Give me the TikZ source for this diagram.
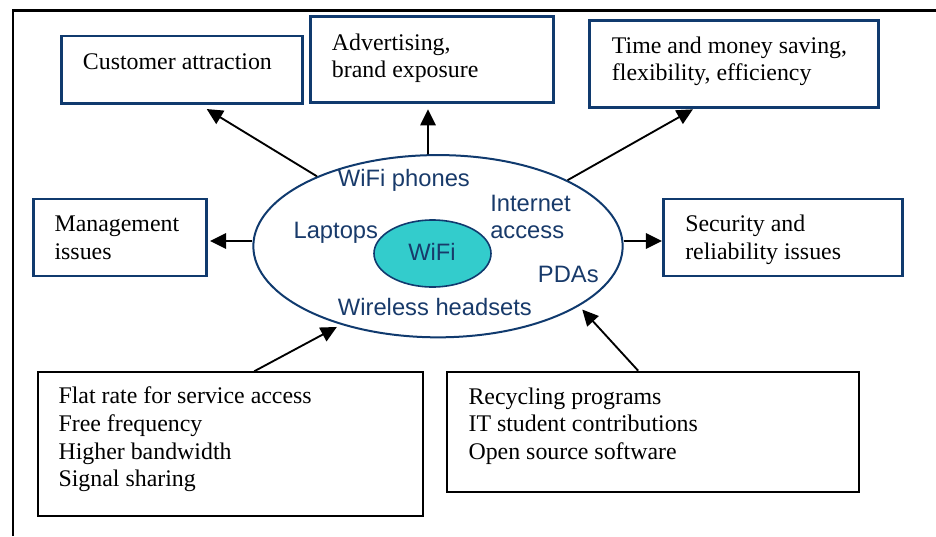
\documentclass[tikz,border=0pt]{standalone}
\usepackage{fontspec}
\setmainfont{Liberation Serif}
\newfontfamily\ringsans{Liberation Sans}
\usetikzlibrary{shapes.geometric,arrows.meta,fit,calc}
\definecolor{boxblue}{RGB}{16,58,110}
\definecolor{inkblue}{RGB}{24,58,106}
\definecolor{wifiteal}{RGB}{51,204,204}
\begin{document}
\begin{tikzpicture}[x=0.75pt,y=-0.75pt,
  bluebox/.style={draw=boxblue,line width=2pt,inner sep=0pt},
  blackbox/.style={draw=black,line width=1.5pt,inner sep=0pt},
  boxtext/.style={anchor=base west,inner sep=0pt,font=\fontsize{17.9pt}{20.9pt}\selectfont},
  ringtext/.style={anchor=base west,inner sep=0pt,text=inkblue,font=\ringsans\fontsize{17.8pt}{20pt}\selectfont},
  arr/.style={draw=black,line width=1.4pt,-{Triangle[length=12pt,width=11.5pt]}}]
\useasboundingbox (0,0) rectangle (936,536);

% outer frame (left and top edges only)
\draw[line width=1.6pt] (13,536) -- (13,10.5) -- (936,10.5);

% outcome boxes
\node[bluebox,fit={(61.7,36) (302.7,103.3)}] (ca) {};
\node[bluebox,fit={(310.7,16.7) (553.3,102.7)}] (ad) {};
\node[bluebox,fit={(589.5,20.7) (878.3,107.3)}] (tm) {};
\node[bluebox,fit={(33.3,199) (206.7,276)}] (mg) {};
\node[bluebox,fit={(663.3,199) (902.7,276)}] (sec) {};

% enabler boxes
\node[blackbox,fit={(37.7,372.3) (422.7,515.7)}] (fr) {};
\node[blackbox,fit={(447.3,371.7) (859,491.7)}] (rc) {};

% box texts
\node[boxtext] (ca-t) at (82.7,69) {Customer attraction};
\node[boxtext] (ad-t) at (331.7,50) {\begin{tabular}[t]{@{}l@{}}Advertising,\\brand exposure\end{tabular}};
\node[boxtext] (tm-t) at (611.7,53) {\begin{tabular}[t]{@{}l@{}}Time and money saving,\\flexibility, efficiency\end{tabular}};
\node[boxtext] (mg-t) at (54.3,231.7) {\begin{tabular}[t]{@{}l@{}}Management\\issues\end{tabular}};
\node[boxtext] (sec-t) at (685,231.7) {\begin{tabular}[t]{@{}l@{}}Security and\\reliability issues\end{tabular}};
\node[boxtext] (fr-t) at (58.3,403.3) {\begin{tabular}[t]{@{}l@{}}Flat rate for service access\\Free frequency\\Higher bandwidth\\Signal sharing\end{tabular}};
\node[boxtext] (rc-t) at (468.3,404) {\begin{tabular}[t]{@{}l@{}}Recycling programs\\IT student contributions\\Open source software\end{tabular}};

% central ellipses
\node[draw=boxblue,line width=1.5pt,ellipse,inner sep=0pt,
      minimum width=277pt,minimum height=136.7pt] (big) at (438,246.2) {};
\node[draw=boxblue,line width=1.2pt,fill=wifiteal,ellipse,inner sep=0pt,
      minimum width=87.75pt,minimum height=50.25pt] (core) at (432.5,253.5) {};

% device labels
\node[ringtext] (phones) at (337.7,186.7) {WiFi phones};
\node[ringtext] (laptops) at (293.3,238.3) {Laptops};
\node[ringtext] (inet) at (490,211.7) {\begin{tabular}[t]{@{}l@{}}Internet\\access\end{tabular}};
\node[ringtext] (wifi) at (408,260) {WiFi};
\node[ringtext] (pdas) at (537.7,282.3) {PDAs};
\node[ringtext] (heads) at (337.7,315) {Wireless headsets};

% connectors
\draw[arr] (big.150) -- ($(ca.south)+(24.5,4.4)$);
\draw[arr] ($(big.north)+(-10,0.3)$) -- ($(ad.south)+(-4,5.3)$);
\draw[arr] (big.27.5) -- ($(tm.south)+(-41,0.7)$);
\draw[arr] ($(big.west)+(0,-5.2)$) -- ($(mg.east)+(2,3.5)$);
\draw[arr] ($(big.east)+(0,-5.2)$) -- ($(sec.west)+(0,3.5)$);
\draw[arr,shorten >=3.5pt] ($(fr.north)+(24,0)$) -- (big.219);
\draw[arr,shorten >=3.5pt] ($(rc.north)+(-15,0)$) -- (big.337);
\end{tikzpicture}
\end{document}
